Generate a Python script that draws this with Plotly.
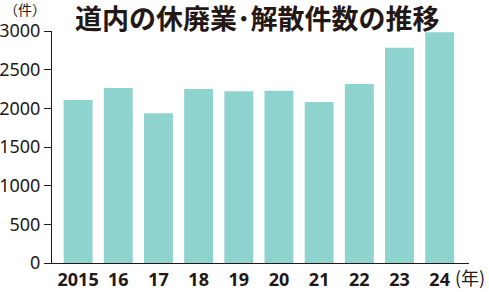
import plotly.graph_objects as go

years = ["2015", "16", "17", "18", "19", "20", "21", "22", "23", "24"]
counts = [2108, 2263, 1935, 2250, 2220, 2226, 2082, 2315, 2784, 2983]
y_ticks = [0, 500, 1000, 1500, 2000, 2500, 3000]

bar_color = "#8fd3cf"
ink = "#231815"

W, H = 489, 292
L, R, T, B = 52, 20, 31, 29
pw, ph = W - L - R, H - T - B
def px(x): return (x - L) / pw
def py(y): return (H - B - y) / ph

fig = go.Figure(go.Bar(
    x=list(range(len(years))), y=counts, width=0.72,
    marker=dict(color=bar_color, line=dict(width=0)),
))

fig.update_layout(
    width=W, height=H,
    margin=dict(l=L, r=R, t=T, b=B, autoexpand=False),
    paper_bgcolor="white", plot_bgcolor="white",
    showlegend=False,
    xaxis=dict(
        range=[-0.65, 9.73], tickmode="array",
        tickvals=list(range(len(years))), ticktext=years,
        showgrid=False, zeroline=False, showline=True, automargin=False,
        linecolor=ink, linewidth=1.2, ticks="",
        tickfont=dict(family="Noto Sans", size=18, color=ink, weight=700),
        ticklabelstandoff=0,
    ),
    yaxis=dict(
        range=[0, 3000], tickvals=y_ticks, automargin=False,
        showgrid=False, zeroline=False, showline=True,
        linecolor=ink, linewidth=1.2, ticks="outside", ticklen=7,
        tickcolor=ink, tickwidth=1.2,
        tickfont=dict(family="Noto Sans", size=18, color=ink),
        ticklabelstandoff=0,
    ),
)

fig.add_annotation(
    x=px(257), y=py(17), xref="paper", yref="paper", xanchor="center", yanchor="middle",
    text="<b>道内の休廃業･解散件数の推移</b>",
    showarrow=False, font=dict(family="Noto Sans CJK JP", size=27, color=ink),
)
fig.add_annotation(
    x=px(25), y=py(9), xref="paper", yref="paper", xanchor="center", yanchor="middle",
    text="（件）", showarrow=False,
    font=dict(family="Noto Sans CJK JP", size=14, color=ink),
)
fig.add_annotation(
    x=px(453), y=py(277), xref="paper", yref="paper", xanchor="left", yanchor="middle",
    text="(年)", showarrow=False,
    font=dict(family="Noto Sans CJK JP", size=18, color=ink),
)

fig.write_html("out.html")
